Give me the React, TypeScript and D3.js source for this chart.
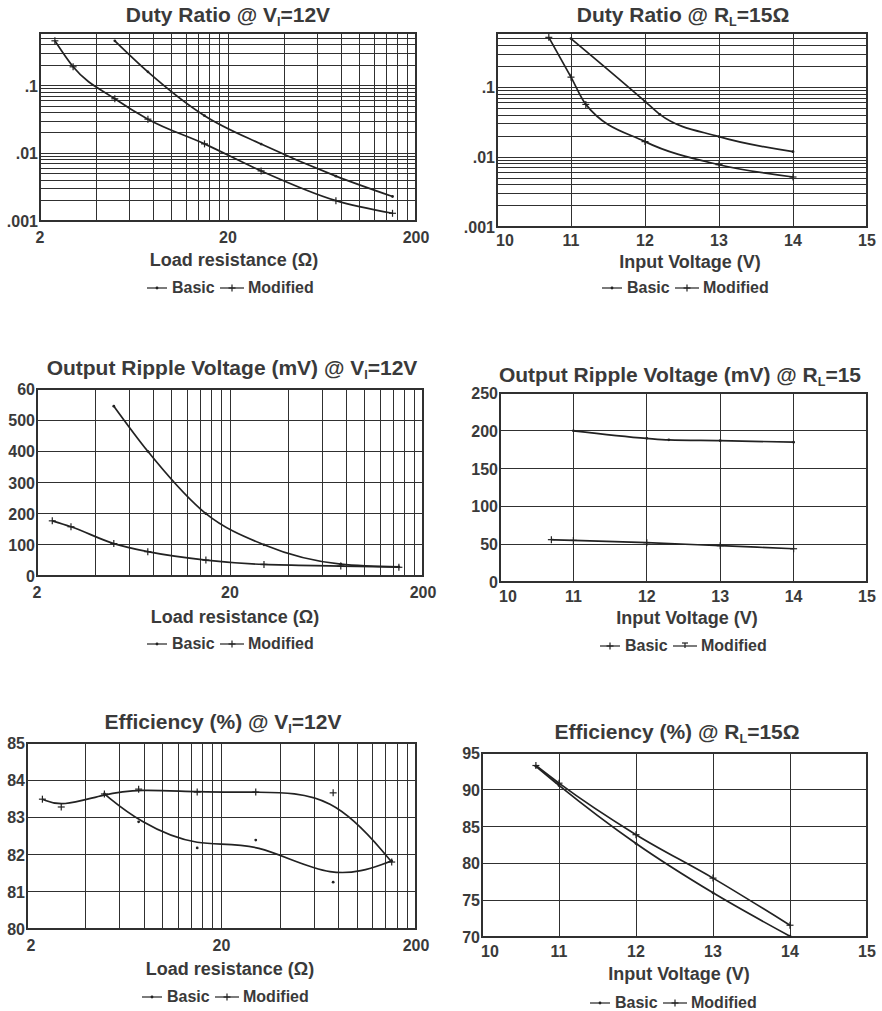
import React from 'react';
import * as d3 from 'd3';

// load resistance sweep (ohm), Vi = 12V
const rBasic = [5, 7.5, 15, 30, 75, 150];
const rModified = [2.4, 3, 5, 7.5, 15, 30, 75, 150];

// duty ratio vs load resistance
const dutyRBasic = [0.46, 0.16, 0.036, 0.0137, 0.0046, 0.0023];
const dutyRModified = [0.46, 0.19, 0.064, 0.032, 0.0138, 0.0055, 0.002, 0.0013];

// duty ratio vs input voltage, RL = 15 ohm
const vDutyBasic = [11, 12, 12.2, 13, 14];
const dutyVBasic = [0.5, 0.063, 0.041, 0.0197, 0.012];
const vDutyModified = [10.7, 11, 11.2, 12, 13, 14];
const dutyVModified = [0.52, 0.14, 0.057, 0.0167, 0.0078, 0.0052];

// output ripple (mV) vs load resistance
const rippleRBasic = [545, 400, 200, 100, 38, 29];
const rippleRModified = [177, 158, 104, 78, 51, 37, 32, 28];

// output ripple (mV) vs input voltage
const vRippleBasic = [11, 12, 12.3, 13, 14];
const rippleVBasic = [200, 190, 188, 187, 185];
const vRippleModified = [10.7, 11, 12, 13, 14];
const rippleVModified = [56, 55, 52, 48, 44];

// efficiency (%) vs load resistance
const effRBasic = [83.63, 82.88, 82.18, 82.39, 81.26, 81.83];
const effRModified = [83.49, 83.28, 83.63, 83.76, 83.68, 83.68, 83.66, 81.8];

// efficiency (%) vs input voltage
const vEff = [10.7, 11, 12, 13, 14];
const effVBasic = [93.2, 90.6, 82.7, 76, 70.1];
const effVModified = [93.3, 90.9, 83.9, 78, 71.6];

// axis ticks
const rTicks = [2, 20, 200];
const rTickLabels = ['2', '20', '200'];
const rGrid = [2, 4, 6, 8, 10, 12, 14, 16, 18, 20, 40, 60, 80, 100, 120, 140, 160, 180, 200];
const vTicks = [10, 11, 12, 13, 14, 15];
const vTickLabels = ['10', '11', '12', '13', '14', '15'];
const dutyTicks = [0.001, 0.01, 0.1];
const dutyTickLabels = ['.001', '.01', '.1'];
const rippleRTicks = [0, 100, 200, 300, 400, 500, 600];
const rippleRTickLabels = ['0', '100', '200', '300', '400', '500', '60'];
const rippleVTicks = [0, 50, 100, 150, 200, 250];
const rippleVTickLabels = ['0', '50', '100', '150', '200', '250'];
const effRTicks = [80, 81, 82, 83, 84, 85];
const effRTickLabels = ['80', '81', '82', '83', '84', '85'];
const effVTicks = [70, 75, 80, 85, 90, 95];
const effVTickLabels = ['70', '75', '80', '85', '90', '95'];

const FONT = '"Liberation Sans", Arial, Helvetica, sans-serif';
const TEXT = '#3a3a3a';
const INK = '#222';

const dutyGrid: number[] = [];
[0.001, 0.01, 0.1].forEach(k => {
  for (let m = 1; m <= 9; m++) if (m * k <= 0.6 + 1e-9) dutyGrid.push(m * k);
});

type Marker = 'dot' | 'plus' | 'tee';
type Seg = { t: string; sub?: boolean };

function MarkerShape({ x, y, kind }: { x: number; y: number; kind: Marker }) {
  if (kind === 'dot') return <circle cx={x} cy={y} r={1.4} fill={INK} />;
  if (kind === 'tee')
    return (
      <g stroke={INK} strokeWidth={1.2}>
        <line x1={x - 3} x2={x + 3} y1={y - 3} y2={y - 3} />
        <line x1={x} x2={x} y1={y - 3} y2={y + 2} />
      </g>
    );
  return (
    <g stroke={INK} strokeWidth={1.2}>
      <line x1={x - 3.5} x2={x + 3.5} y1={y} y2={y} />
      <line x1={x} x2={x} y1={y - 3.5} y2={y + 3.5} />
    </g>
  );
}

function Title({ segs, x, y, size }: { segs: Seg[]; x: number; y: number; size: number }) {
  const parts: React.ReactNode[] = [];
  let shifted = false;
  segs.forEach((s, i) => {
    if (s.sub) {
      parts.push(<tspan key={i} fontSize={size * 0.6} dy={4}>{s.t}</tspan>);
      shifted = true;
    } else {
      parts.push(<tspan key={i} dy={shifted ? -4 : 0}>{s.t}</tspan>);
      shifted = false;
    }
  });
  return (
    <text x={x} y={y} textAnchor="middle" fontSize={size} fontWeight="bold" fill={TEXT}>
      {parts}
    </text>
  );
}

function Legend({ x, y, basic, modified }: { x: number; y: number; basic: Marker; modified: Marker }) {
  const left = x - 83;
  return (
    <g fontFamily={FONT} fontSize={16} fontWeight="bold" fill={TEXT}>
      <line x1={left} x2={left + 20} y1={y - 5} y2={y - 5} stroke={INK} strokeWidth={1.2} />
      <MarkerShape x={left + 10} y={y - 5} kind={basic} />
      <text x={left + 25} y={y}>Basic</text>
      <line x1={left + 73} x2={left + 97} y1={y - 5} y2={y - 5} stroke={INK} strokeWidth={1.2} />
      <MarkerShape x={left + 85} y={y - 5} kind={modified} />
      <text x={left + 101} y={y}>Modified</text>
    </g>
  );
}

type PanelCfg = {
  left: number; right: number; top: number; bottom: number;
  xLog: boolean; xDomain: [number, number]; xGrid: number[]; xTicks: number[]; xTickLabels: string[];
  firstTickDx: number;
  yLog: boolean; yDomain: [number, number]; yGrid: number[]; yTicks: number[]; yTickLabels: string[];
  title: Seg[]; titleX: number; titleY: number;
  xTitle: string; xTitleX: number; xTitleY: number; tickY: number;
  legendX: number; legendY: number; legendBasic: Marker; legendModified: Marker;
  series: { xs: number[]; ys: number[]; marker: Marker }[];
  curve: d3.CurveFactory;
};

function Panel({ c }: { c: PanelCfg }) {
  const x = (c.xLog ? d3.scaleLog() : d3.scaleLinear()).domain(c.xDomain).range([c.left, c.right]);
  const y = (c.yLog ? d3.scaleLog() : d3.scaleLinear()).domain(c.yDomain).range([c.bottom, c.top]);
  const line = d3.line<[number, number]>().x(d => x(d[0])).y(d => y(d[1])).curve(c.curve);

  return (
    <g fontFamily={FONT}>
      <g stroke="#303030" strokeWidth={1} shapeRendering="crispEdges">
        {c.xGrid.map(v => (
          <line key={'x' + v} x1={x(v)} x2={x(v)} y1={c.top} y2={c.bottom} />
        ))}
        {c.yGrid.map(v => (
          <line key={'y' + v} x1={c.left} x2={c.right} y1={y(v)} y2={y(v)} />
        ))}
        <rect x={c.left} y={c.top} width={c.right - c.left} height={c.bottom - c.top} fill="none" strokeWidth={1.3} />
      </g>
      {c.series.map((s, i) => {
        const pts = s.xs.map((v, j) => [v, s.ys[j]] as [number, number]);
        return (
          <g key={i}>
            <path d={line(pts) || ''} fill="none" stroke={INK} strokeWidth={1.7} />
            {pts.map((p, j) => (
              <MarkerShape key={j} x={x(p[0])} y={y(p[1])} kind={s.marker} />
            ))}
          </g>
        );
      })}
      <g fontSize={16} fontWeight="bold" fill={TEXT}>
        {c.xTicks.map((v, i) => (
          <text key={'xt' + v} x={x(v) + (i === 0 ? c.firstTickDx : 0)} y={c.tickY} textAnchor="middle">
            {c.xTickLabels[i]}
          </text>
        ))}
        {c.yTicks.map((v, i) => (
          <text key={'yt' + v} x={c.left - 2} y={y(v) + 6} textAnchor="end">{c.yTickLabels[i]}</text>
        ))}
      </g>
      <Title segs={c.title} x={c.titleX} y={c.titleY} size={21} />
      <text x={c.xTitleX} y={c.xTitleY} textAnchor="middle" fontSize={18} fontWeight="bold" fill={TEXT}>
        {c.xTitle}
      </text>
      <Legend x={c.legendX} y={c.legendY} basic={c.legendBasic} modified={c.legendModified} />
    </g>
  );
}

const rAxis = { xLog: true, xDomain: [2, 200] as [number, number], xGrid: rGrid, xTicks: rTicks, xTickLabels: rTickLabels, xTitle: 'Load resistance (\u03a9)', firstTickDx: 0 };
const vAxis = { xLog: false, xDomain: [10, 15] as [number, number], xGrid: vTicks, xTicks: vTicks, xTickLabels: vTickLabels, xTitle: 'Input Voltage (V)', firstTickDx: 8 };

const panels: PanelCfg[] = [
  {
    ...rAxis, left: 40, right: 416, top: 33, bottom: 221,
    yLog: true, yDomain: [0.001, 0.6], yGrid: dutyGrid, yTicks: dutyTicks, yTickLabels: dutyTickLabels,
    title: [{ t: 'Duty Ratio @ V' }, { t: 'I', sub: true }, { t: '=12V' }], titleX: 228, titleY: 22,
    xTitleX: 234, xTitleY: 266, tickY: 243, legendX: 230, legendY: 293, legendBasic: 'dot', legendModified: 'plus',
    series: [
      { xs: rBasic, ys: dutyRBasic, marker: 'dot' },
      { xs: rModified, ys: dutyRModified, marker: 'plus' },
    ],
    curve: d3.curveMonotoneX,
  },
  {
    ...vAxis, left: 497, right: 867, top: 33, bottom: 227,
    yLog: true, yDomain: [0.001, 0.6], yGrid: dutyGrid, yTicks: dutyTicks, yTickLabels: dutyTickLabels,
    title: [{ t: 'Duty Ratio @ R' }, { t: 'L', sub: true }, { t: '=15\u03a9' }], titleX: 683, titleY: 22,
    xTitleX: 690, xTitleY: 268, tickY: 246, legendX: 685, legendY: 293, legendBasic: 'dot', legendModified: 'plus',
    series: [
      { xs: vDutyBasic, ys: dutyVBasic, marker: 'dot' },
      { xs: vDutyModified, ys: dutyVModified, marker: 'plus' },
    ],
    curve: d3.curveMonotoneX,
  },
  {
    ...rAxis, left: 37, right: 423, top: 389, bottom: 576,
    yLog: false, yDomain: [0, 600], yGrid: rippleRTicks, yTicks: rippleRTicks, yTickLabels: rippleRTickLabels,
    title: [{ t: 'Output Ripple Voltage (mV) @ V' }, { t: 'I', sub: true }, { t: '=12V' }], titleX: 232, titleY: 375,
    xTitleX: 235, xTitleY: 623, tickY: 598, legendX: 230, legendY: 649, legendBasic: 'dot', legendModified: 'plus',
    series: [
      { xs: rBasic, ys: rippleRBasic, marker: 'dot' },
      { xs: rModified, ys: rippleRModified, marker: 'plus' },
    ],
    curve: d3.curveMonotoneX,
  },
  {
    ...vAxis, left: 500, right: 867, top: 393, bottom: 582,
    yLog: false, yDomain: [0, 250], yGrid: rippleVTicks, yTicks: rippleVTicks, yTickLabels: rippleVTickLabels,
    title: [{ t: 'Output Ripple Voltage (mV) @ R' }, { t: 'L', sub: true }, { t: '=15' }], titleX: 680, titleY: 382,
    xTitleX: 687, xTitleY: 624, tickY: 602, legendX: 683, legendY: 651, legendBasic: 'plus', legendModified: 'tee',
    series: [
      { xs: vRippleBasic, ys: rippleVBasic, marker: 'dot' },
      { xs: vRippleModified, ys: rippleVModified, marker: 'plus' },
    ],
    curve: d3.curveMonotoneX,
  },
  {
    ...rAxis, left: 27, right: 416, top: 743, bottom: 929,
    yLog: false, yDomain: [80, 85], yGrid: effRTicks, yTicks: effRTicks, yTickLabels: effRTickLabels,
    title: [{ t: 'Efficiency (%) @ V' }, { t: 'I', sub: true }, { t: '=12V' }], titleX: 223, titleY: 729,
    xTitleX: 230, xTitleY: 975, tickY: 951, legendX: 225, legendY: 1002, legendBasic: 'dot', legendModified: 'plus',
    firstTickDx: 4,
    series: [
      { xs: rBasic, ys: effRBasic, marker: 'dot' },
      { xs: rModified, ys: effRModified, marker: 'plus' },
    ],
    curve: d3.curveBasis,
  },
  {
    ...vAxis, left: 482, right: 867, top: 753, bottom: 937,
    yLog: false, yDomain: [70, 95], yGrid: effVTicks, yTicks: effVTicks, yTickLabels: effVTickLabels,
    title: [{ t: 'Efficiency (%) @ R' }, { t: 'L', sub: true }, { t: '=15\u03a9' }], titleX: 677, titleY: 739,
    xTitleX: 679, xTitleY: 980, tickY: 957, legendX: 673, legendY: 1008, legendBasic: 'dot', legendModified: 'plus',
    series: [
      { xs: vEff, ys: effVBasic, marker: 'dot' },
      { xs: vEff, ys: effVModified, marker: 'plus' },
    ],
    curve: d3.curveMonotoneX,
  },
];

export default function App() {
  return (
    <div style={{ position: 'absolute', left: 0, top: 0 }}>
      <svg width={882} height={1011} style={{ display: 'block', background: '#fff' }}>
        {panels.map((p, i) => (
          <Panel key={i} c={p} />
        ))}
      </svg>
    </div>
  );
}
